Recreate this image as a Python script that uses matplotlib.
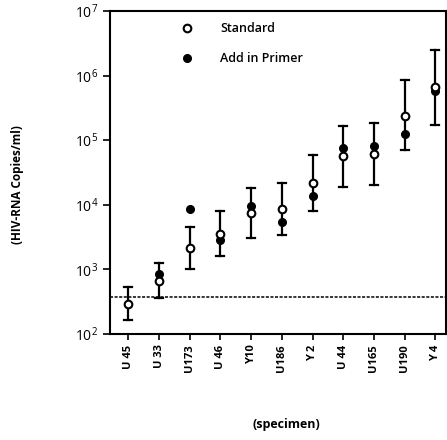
import matplotlib
matplotlib.use('Agg')
import matplotlib.pyplot as plt

specimens = ['U 45', 'U 33', 'U173', 'U 46', 'Y10', 'U186', 'Y 2', 'U 44', 'U165', 'U190', 'Y 4']
standard = [295, 670, 2140, 3550, 7500, 8700, 22000, 56600, 61000, 241000, 664000]
primer = [None, 850, 8700, 2900, 9500, 5400, 13900, 75000, 81000, 123000, 575000]
err_hi = [535, 1260, 4450, 8100, 18000, 21600, 60000, 167000, 184000, 843000, 2490000]
err_lo = [166, 355, 1000, 1600, 3100, 3400, 8000, 18800, 20300, 71000, 171000]
cutoff = 380

plt.rcParams['font.family'] = ['Open Sans', 'DejaVu Sans']

fig = plt.figure(figsize=(4.47, 4.40), dpi=100)
ax = fig.add_axes([0.246, 0.241, 0.752, 0.734])

x = list(range(len(specimens)))

# error bars (range of values per specimen)
for i in x:
    ax.plot([i, i], [err_lo[i], err_hi[i]], color='black', lw=1.6, zorder=2)
    for v in (err_lo[i], err_hi[i]):
        ax.plot([i - 0.13, i + 0.13], [v, v], color='black', lw=1.6, zorder=2)

px = [i for i in x if primer[i] is not None]
py = [primer[i] for i in px]
ax.plot(px, py, 'o', color='black', ms=5.5, zorder=3, label='Add in Primer')
ax.plot(x, standard, 'o', mfc='white', mec='black', mew=1.5, ms=5.5, zorder=4, label='Standard')

ax.axhline(cutoff, color='black', lw=1.1, ls=(0, (2, 1)), zorder=1)

ax.set_yscale('log')
ax.set_ylim(1e2, 1e7)
ax.set_xlim(-0.6, 10.35)
ax.minorticks_off()
ax.set_xticks(x)
ax.set_xticklabels(specimens, rotation=90, fontsize=8, fontweight='bold')
ax.tick_params(axis='y', labelsize=10, length=5, width=1.2)
ax.tick_params(axis='x', length=4, width=1.2)
for s in ax.spines.values():
    s.set_linewidth(1.5)

h, l = ax.get_legend_handles_labels()
leg = ax.legend(h[::-1], l[::-1], loc='upper left', bbox_to_anchor=(0.16, 1.0), frameon=False,
                handletextpad=1.6, labelspacing=1.35, fontsize=9,
                prop={'weight': 'semibold', 'size': 9})

fig.text(0.04, 0.58, '(HIV-RNA Copies/ml)', rotation=90, ha='center', va='center', fontsize=8.5, fontweight='bold')
fig.text(0.64, 0.035, '(specimen)', ha='center', va='center', fontsize=9, fontweight='bold')

fig.savefig('out.png', dpi=100)
